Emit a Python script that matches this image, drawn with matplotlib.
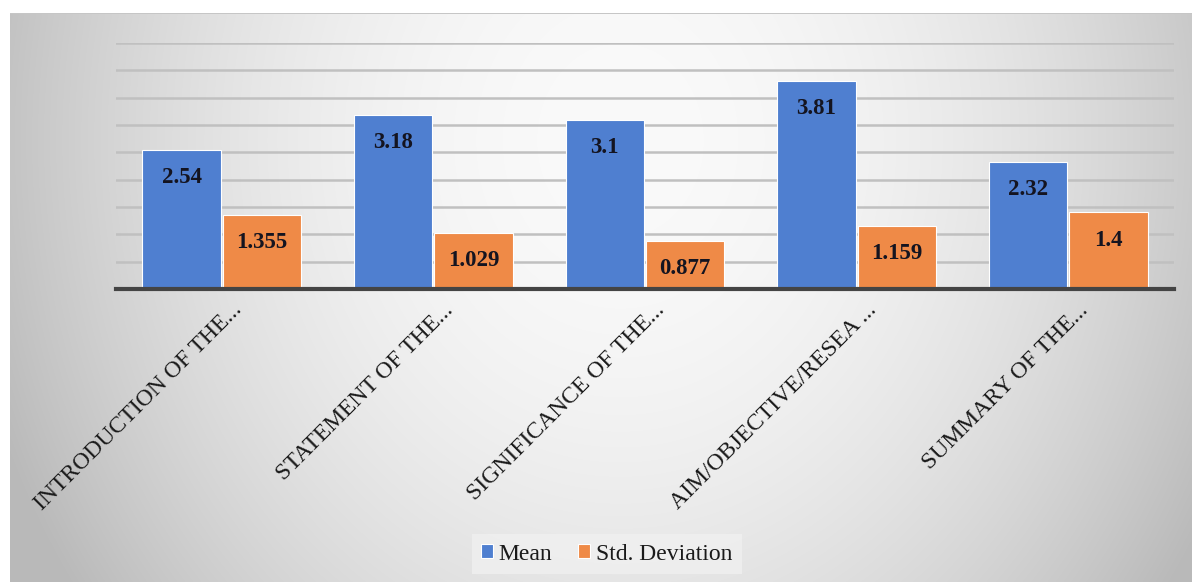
"""Grouped bar chart: mean and standard deviation of ratings per chapter-one section."""
import matplotlib.pyplot as plt
import matplotlib.transforms as mtransforms
import numpy as np

SECTIONS = [
    "INTRODUCTION OF THE...",
    "STATEMENT OF THE...",
    "SIGNIFICANCE OF THE...",
    "AIM/OBJECTIVE/RESEA ...",
    "SUMMARY OF THE...",
]
MEAN = [2.54, 3.18, 3.1, 3.81, 2.32]
STD_DEV = [1.355, 1.029, 0.877, 1.159, 1.4]
MEAN_LABELS = ["2.54", "3.18", "3.1", "3.81", "2.32"]
STD_LABELS = ["1.355", "1.029", "0.877", "1.159", "1.4"]

BLUE = "#4f7fd0"
ORANGE = "#ef8a47"
SERIF = ["Liberation Serif", "DejaVu Serif"]

W, H, DPI = 1192, 582, 100


def background(fig):
    # soft radial shading behind the whole chart panel
    bg = fig.add_axes([0, 0, 1, 1], zorder=-10)
    yy, xx = np.mgrid[0:H, 0:W]
    r2 = ((xx - 620) / 600.0) ** 2 + ((yy - 140) / 700.0) ** 2
    shade = np.clip(250 - 52 * r2, 185, 250) / 255.0
    img = np.dstack([shade, shade, shade])
    img[:13, :, :] = 1.0
    img[:, :10, :] = 1.0
    img[13, 10:, :] = 0.78
    bg.imshow(img, extent=(0, W, H, 0), aspect="auto", interpolation="bilinear")
    bg.set_xlim(0, W)
    bg.set_ylim(H, 0)
    bg.axis("off")


fig = plt.figure(figsize=(W / DPI, H / DPI), dpi=DPI)
background(fig)

ax = fig.add_axes([116 / W, 1 - 289 / H, (1174 - 116) / W, (289 - 43) / H])
ax.patch.set_alpha(0)

x = np.arange(len(SECTIONS))
width = 0.37
b1 = ax.bar(x - width / 2 - 0.005, MEAN, width, color=BLUE, edgecolor="white",
            linewidth=0.8, label="Mean", zorder=3)
b2 = ax.bar(x + width / 2 + 0.005, STD_DEV, width, color=ORANGE, edgecolor="white",
            linewidth=0.8, label="Std. Deviation", zorder=3)

for bars, labels in ((b1, MEAN_LABELS), (b2, STD_LABELS)):
    for rect, txt in zip(bars, labels):
        ax.annotate(txt, (rect.get_x() + rect.get_width() / 2, rect.get_height()),
                    xytext=(0, -20), textcoords="offset points",
                    ha="center", va="center", fontsize=16.5, fontweight="bold",
                    family=SERIF, color="#141420", zorder=4)

ax.set_xlim(-0.5, len(SECTIONS) - 0.5)
ax.set_ylim(0, 4.5)
ax.set_yticks(np.arange(0.5, 4.51, 0.5))
ax.yaxis.grid(True, color="#c0c0c0", linewidth=1.8, zorder=0)
ax.tick_params(axis="y", left=False, labelleft=False)
ax.tick_params(axis="x", bottom=False, pad=4)
for side in ("top", "right", "left"):
    ax.spines[side].set_visible(False)
ax.spines["bottom"].set_color("#444444")
ax.spines["bottom"].set_linewidth(3)
ax.spines["bottom"].set_zorder(5)

ax.set_xticks(x)
ax.set_xticklabels(SECTIONS, rotation=45, ha="right", va="top",
                   rotation_mode="anchor", fontsize=17, family=SERIF,
                   color="#1a1a1a")
shift = mtransforms.ScaledTranslation(9 / DPI, 0, fig.dpi_scale_trans)
for lbl in ax.get_xticklabels():
    lbl.set_transform(lbl.get_transform() + shift)

leg = fig.legend(handles=[b1, b2], loc="center", bbox_to_anchor=(0.509, 0.048),
                 ncol=2, frameon=True, fancybox=False,
                 prop={"family": SERIF, "size": 17},
                 handlelength=0.5, handleheight=0.5, handletextpad=0.25,
                 columnspacing=1.1, borderpad=0.4)
leg.get_frame().set_facecolor("#f0f0f0")
leg.get_frame().set_edgecolor("none")
for text in leg.get_texts():
    text.set_color("#1a1a1a")

fig.savefig("out.png", dpi=DPI)
